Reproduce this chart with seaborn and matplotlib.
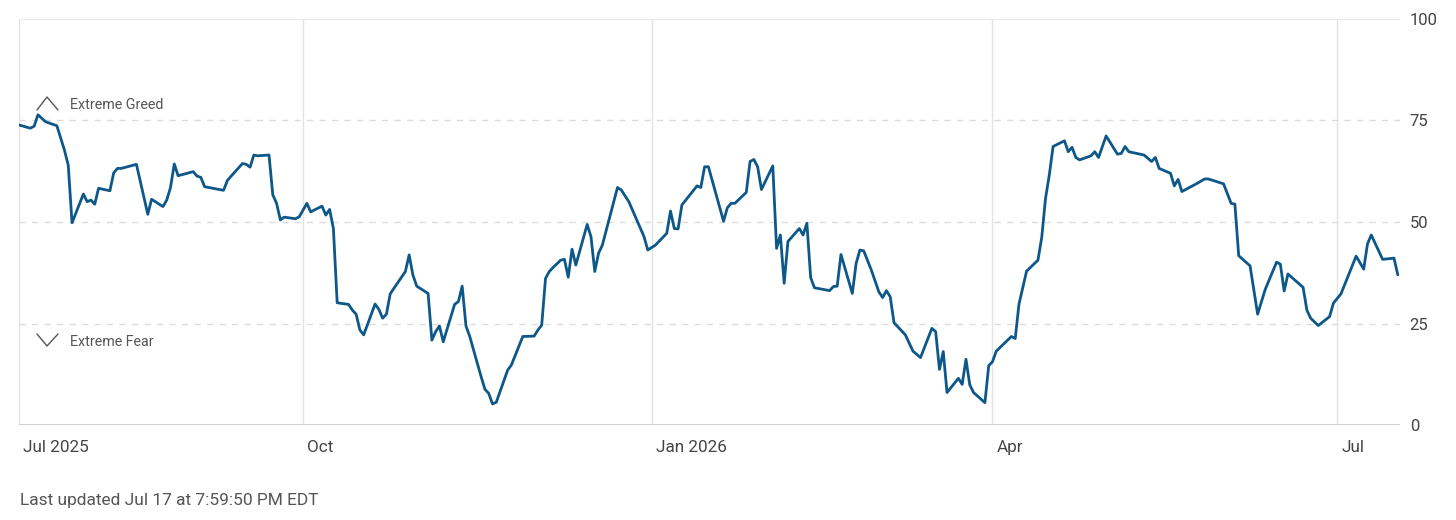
import datetime as dt
import matplotlib
matplotlib.use("Agg")
import matplotlib.pyplot as plt
import matplotlib.dates as mdates
from matplotlib.lines import Line2D
import pandas as pd
import seaborn as sns

# Fear & Greed index readings
dates = [
    "2025-07-18", "2025-07-21", "2025-07-22", "2025-07-23", "2025-07-25", "2025-07-28",
    "2025-07-30", "2025-07-31", "2025-08-01", "2025-08-04", "2025-08-05", "2025-08-06",
    "2025-08-07", "2025-08-08", "2025-08-11", "2025-08-12", "2025-08-13", "2025-08-14",
    "2025-08-18", "2025-08-21", "2025-08-22", "2025-08-25", "2025-08-26", "2025-08-27",
    "2025-08-28", "2025-08-29", "2025-09-02", "2025-09-03", "2025-09-04", "2025-09-05",
    "2025-09-10", "2025-09-11", "2025-09-12", "2025-09-15", "2025-09-16", "2025-09-17",
    "2025-09-18", "2025-09-19", "2025-09-22", "2025-09-23", "2025-09-24", "2025-09-25",
    "2025-09-26", "2025-09-29", "2025-09-30", "2025-10-02", "2025-10-03", "2025-10-06",
    "2025-10-07", "2025-10-08", "2025-10-09", "2025-10-10", "2025-10-13", "2025-10-14",
    "2025-10-15", "2025-10-16", "2025-10-17", "2025-10-20", "2025-10-21", "2025-10-22",
    "2025-10-23", "2025-10-24", "2025-10-25", "2025-10-28", "2025-10-29", "2025-10-30",
    "2025-10-31", "2025-11-03", "2025-11-04", "2025-11-05", "2025-11-06", "2025-11-07",
    "2025-11-10", "2025-11-11", "2025-11-12", "2025-11-13", "2025-11-14", "2025-11-17",
    "2025-11-18", "2025-11-19", "2025-11-20", "2025-11-21", "2025-11-24", "2025-11-25",
    "2025-11-28", "2025-12-01", "2025-12-02", "2025-12-03", "2025-12-04", "2025-12-05",
    "2025-12-06", "2025-12-08", "2025-12-09", "2025-12-10", "2025-12-11", "2025-12-12",
    "2025-12-15", "2025-12-16", "2025-12-17", "2025-12-18", "2025-12-19", "2025-12-23",
    "2025-12-24", "2025-12-26", "2025-12-30", "2025-12-31", "2026-01-02", "2026-01-05",
    "2026-01-06", "2026-01-07", "2026-01-08", "2026-01-09", "2026-01-13", "2026-01-14",
    "2026-01-15", "2026-01-16", "2026-01-20", "2026-01-21", "2026-01-22", "2026-01-23",
    "2026-01-25", "2026-01-26", "2026-01-27", "2026-01-28", "2026-01-29", "2026-01-30",
    "2026-02-02", "2026-02-03", "2026-02-04", "2026-02-05", "2026-02-06", "2026-02-09",
    "2026-02-10", "2026-02-11", "2026-02-12", "2026-02-13", "2026-02-17", "2026-02-18",
    "2026-02-19", "2026-02-20", "2026-02-23", "2026-02-24", "2026-02-25", "2026-02-26",
    "2026-02-28", "2026-03-02", "2026-03-03", "2026-03-04", "2026-03-05", "2026-03-06",
    "2026-03-09", "2026-03-11", "2026-03-13", "2026-03-16", "2026-03-17", "2026-03-18",
    "2026-03-19", "2026-03-20", "2026-03-23", "2026-03-24", "2026-03-25", "2026-03-26",
    "2026-03-27", "2026-03-30", "2026-03-31", "2026-04-01", "2026-04-02", "2026-04-06",
    "2026-04-07", "2026-04-08", "2026-04-10", "2026-04-13", "2026-04-14", "2026-04-15",
    "2026-04-16", "2026-04-17", "2026-04-20", "2026-04-21", "2026-04-22", "2026-04-23",
    "2026-04-24", "2026-04-27", "2026-04-28", "2026-04-29", "2026-05-01", "2026-05-04",
    "2026-05-05", "2026-05-06", "2026-05-07", "2026-05-11", "2026-05-13", "2026-05-14",
    "2026-05-15", "2026-05-18", "2026-05-19", "2026-05-20", "2026-05-21", "2026-05-25",
    "2026-05-27", "2026-05-28", "2026-06-01", "2026-06-03", "2026-06-04", "2026-06-05",
    "2026-06-08", "2026-06-10", "2026-06-12", "2026-06-15", "2026-06-16", "2026-06-17",
    "2026-06-18", "2026-06-22", "2026-06-23", "2026-06-24", "2026-06-26", "2026-06-29",
    "2026-06-30", "2026-07-02", "2026-07-06", "2026-07-08", "2026-07-09", "2026-07-10",
    "2026-07-13", "2026-07-16", "2026-07-17",
]
scores = [
    73.9, 73.1, 73.6, 76.4, 74.7, 73.7,
    67.7, 64.0, 49.8, 56.9, 55.0, 55.4,
    54.4, 58.3, 57.7, 62.1, 63.2, 63.2,
    64.2, 51.9, 55.6, 53.8, 55.4, 58.5,
    64.3, 61.4, 62.4, 61.3, 61.0, 58.7,
    57.8, 60.2, 61.3, 64.4, 64.2, 63.5,
    66.5, 66.3, 66.5, 56.7, 54.6, 50.5,
    51.2, 50.8, 51.3, 54.6, 52.5, 53.9,
    51.7, 53.1, 48.4, 30.1, 29.7, 28.3,
    27.3, 23.4, 22.2, 29.8, 28.5, 26.3,
    27.3, 32.3, 33.7, 37.8, 41.9, 36.9,
    34.2, 32.4, 20.9, 23.0, 24.4, 20.5,
    29.7, 30.4, 34.2, 24.4, 21.8, 11.9,
    8.8, 7.8, 5.2, 5.6, 13.5, 14.8,
    21.8, 21.9, 23.4, 24.6, 36.1, 37.8,
    38.8, 40.6, 40.8, 36.4, 43.3, 39.4,
    49.4, 46.4, 37.8, 42.3, 44.3, 58.5,
    57.9, 55.0, 46.4, 43.1, 44.3, 47.2,
    52.7, 48.4, 48.3, 54.2, 58.9, 58.5,
    63.6, 63.6, 50.2, 53.5, 54.6, 54.6,
    56.4, 57.3, 64.9, 65.4, 63.6, 58.0,
    63.8, 43.5, 46.8, 34.9, 45.2, 48.4,
    46.8, 49.7, 36.3, 33.8, 33.1, 34.1,
    34.2, 42.0, 32.4, 39.8, 43.1, 42.9,
    38.2, 32.8, 31.4, 33.1, 31.6, 25.2,
    22.2, 18.2, 16.6, 23.8, 23.0, 13.7,
    18.1, 8.0, 11.5, 10.0, 16.2, 9.9,
    8.0, 5.5, 14.6, 15.6, 18.2, 21.8,
    21.3, 29.8, 37.9, 40.6, 46.2, 55.8,
    61.6, 68.6, 70.0, 67.3, 68.4, 65.9,
    65.3, 66.3, 67.3, 65.9, 71.2, 66.7,
    66.9, 68.6, 67.3, 66.5, 64.9, 65.9,
    63.2, 62.0, 58.9, 60.5, 57.5, 59.5,
    60.6, 60.6, 59.4, 54.6, 54.4, 41.7,
    39.2, 27.3, 33.4, 40.1, 39.6, 33.0,
    37.2, 33.9, 28.3, 26.3, 24.5, 26.7,
    30.0, 32.3, 41.6, 38.4, 44.6, 46.8,
    40.8, 41.1, 37.0,
]

month_ticks = ["2025-07-18", "2025-10-01", "2026-01-01", "2026-04-01", "2026-07-01"]
month_labels = ["Jul 2025", "Oct", "Jan 2026", "Apr", "Jul"]
y_ticks = [0, 25, 50, 75, 100]
footer = "Last updated Jul 17 at 7:59:50 PM EDT"

df = pd.DataFrame({"date": pd.to_datetime(dates), "score": scores})

sns.set_style("white")
plt.rcParams["font.family"] = ["Roboto", "DejaVu Sans"]

W, H = 1456, 520
fig = plt.figure(figsize=(W / 100, H / 100), dpi=100)
ax = fig.add_axes([19 / W, 1 - 425 / H, (1400 - 19) / W, (425 - 19) / H])

sns.lineplot(data=df, x="date", y="score", ax=ax, color="#0d5889",
             linewidth=2.0, legend=False)

ax.set_xlim(dt.datetime(2025, 7, 18, 6), dt.datetime(2026, 7, 17, 14))
ax.set_ylim(0, 100)
for s in ax.spines.values():
    s.set_visible(False)

# horizontal guides
for v in y_ticks:
    if v == 0:
        ax.axhline(v, color="#cfcfcf", lw=1.4, zorder=1)
    elif v == 100:
        ax.axhline(v, color="#ececec", lw=1.0, zorder=1)
    else:
        ax.axhline(v, color="#dcdcdc", lw=1.0, ls=(0, (4.5, 4.5)), zorder=1)

ax.yaxis.tick_right()
ax.set_yticks(y_ticks)
ax.set_yticklabels([str(v) for v in y_ticks])
ax.tick_params(axis="y", length=0, pad=7, labelsize=12, labelcolor="#444444")

# month guides extend below the axis
tick_dates = pd.to_datetime(month_ticks)
ax.set_xticks(tick_dates)
ax.set_xticklabels([])
ax.tick_params(axis="x", length=19, width=1.0, color="#e3e3e3", direction="out")
for d, lab in zip(tick_dates, month_labels):
    ax.axvline(d, color="#e3e3e3", lw=1.0, zorder=0)
    ax.annotate(lab, xy=(mdates.date2num(d), 0), xycoords=("data", "axes fraction"),
                xytext=(3, -16), textcoords="offset points", ha="left", va="center",
                fontsize=12.3, color="#444444", annotation_clip=False)
ax.set_xlabel("")
ax.set_ylabel("")

# extreme greed / fear markers
chev = dict(color="#555555", lw=1.0)
fig.add_artist(Line2D([37 / W, 47 / W, 58 / W], [1 - 110 / H, 1 - 97 / H, 1 - 110 / H], **chev))
fig.add_artist(Line2D([37 / W, 47 / W, 58 / W], [1 - 334 / H, 1 - 346 / H, 1 - 334 / H], **chev))
fig.text(70 / W, 1 - 105 / H, "Extreme Greed", fontsize=10.3, color="#555555", va="center")
fig.text(70 / W, 1 - 342 / H, "Extreme Fear", fontsize=10.3, color="#555555", va="center")

fig.text(20 / W, 1 - 500 / H, footer, fontsize=12.5, color="#555555", va="center")

fig.savefig("out.png", dpi=100)
